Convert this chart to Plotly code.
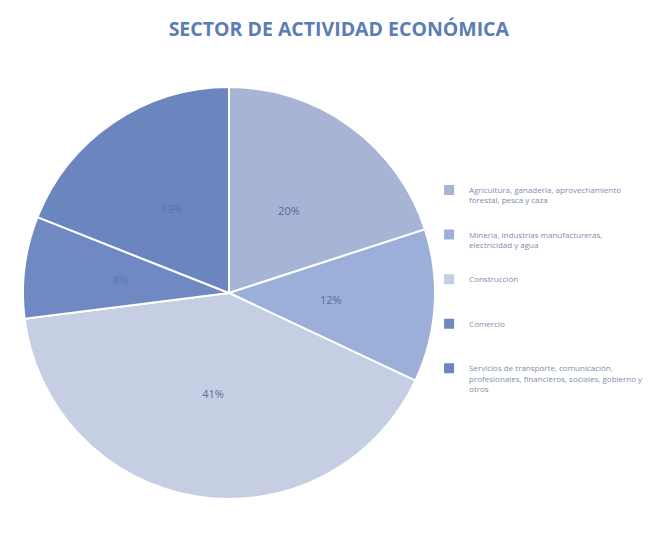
import plotly.graph_objects as go

labels = [
    "Agricultura, ganadería, aprovechamiento<br>forestal, pesca y caza<br> <br> ",
    "Minería, industrias manufactureras,<br>electricidad y agua<br> <br> ",
    "Construcción<br> <br> <br> ",
    "Comercio<br> <br> <br> ",
    "Servicios de transporte, comunicación,<br>profesionales, financieros, sociales, gobierno y<br>otros",
]
values = [20, 12, 41, 8, 19]
colors = ["#A7B4D6", "#9CAFD8", "#C6CEE4", "#7089C2", "#6B85BE"]
text_colors = ["#566C9C", "#566C9C", "#5A6D98", "#5A72AA", "#5A72AA"]

# pie geometry (paper fractions)
cx, cy, r = 221 / 659, 1 - 285 / 537, 206
label_r = 0.66 * r

fig = go.Figure()
fig.add_trace(go.Pie(
    labels=labels,
    values=values,
    sort=False,
    direction="clockwise",
    rotation=0,
    marker=dict(colors=colors, line=dict(color="#FFFFFF", width=2)),
    textinfo="none",
    domain=dict(x=[cx - r / 659, cx + r / 659], y=[cy - r / 537, cy + r / 537]),
    hoverinfo="label+percent",
))
# transparent ring carrying the percentage labels at about half the radius
fig.add_trace(go.Pie(
    labels=labels,
    values=values,
    sort=False,
    direction="clockwise",
    rotation=0,
    hole=0.5,
    marker=dict(colors=["rgba(0,0,0,0)"] * len(values), line=dict(width=0)),
    texttemplate="%{percent:.0%}",
    textposition="inside",
    insidetextorientation="horizontal",
    textfont=dict(family="Open Sans", size=11, color=text_colors),
    domain=dict(x=[cx - label_r / 659, cx + label_r / 659],
                y=[cy - label_r / 537, cy + label_r / 537]),
    showlegend=False,
    hoverinfo="skip",
))

fig.update_layout(
    width=659,
    height=537,
    margin=dict(l=0, r=0, t=0, b=0),
    paper_bgcolor="#FFFFFF",
    plot_bgcolor="#FFFFFF",
    title=dict(
        text="<b>SECTOR DE ACTIVIDAD ECONÓMICA</b>",
        x=0.502, xanchor="center",
        y=0.961, yanchor="middle",
        font=dict(family="Open Sans", size=19.5, color="#5B7DB3"),
    ),
    showlegend=True,
    legend=dict(
        x=0.639, xanchor="left",
        y=0.683, yanchor="top",
        font=dict(family="Open Sans", size=8, color="#7E8CAD"),
        valign="top",
        itemwidth=30,
        bgcolor="rgba(0,0,0,0)",
        tracegroupgap=0,
    ),
)

fig.write_html("out.html")
